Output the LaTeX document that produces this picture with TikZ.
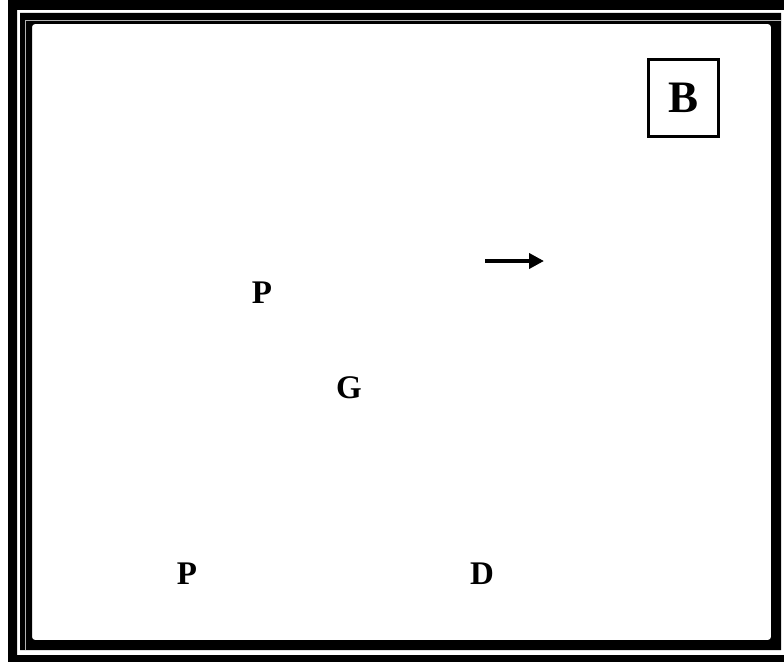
\documentclass[tikz,border=0pt]{standalone}
\usepackage{fontspec}
\setmainfont{Liberation Serif}
\usetikzlibrary{arrows.meta}
\tikzset{
  lbl/.style={font=\fontsize{33}{38}\selectfont\bfseries, inner sep=0pt},
  boxlbl/.style={draw, line width=3pt, minimum width=70pt, minimum height=77pt, font=\fontsize{45}{50}\selectfont\bfseries, inner sep=0pt},
  flow/.style={line width=4.5pt, -{Triangle[length=15pt,width=15pt]}}
}
\begin{document}
\begin{tikzpicture}[x=1pt,y=-1pt]
\useasboundingbox (0,0) rectangle (784,661);
\clip (0,0) rectangle (784,661);
\fill[white] (0,0) rectangle (784,661);
% outer frame
\fill[black, even odd rule] (8,-10) rectangle (800,675) (17,10) rectangle (790,655);
% inner frame
\fill[black, even odd rule] (20,13) rectangle (781,650) [rounded corners=3pt] (32,24) rectangle (771,640);
\draw[gray!60, line width=0.6pt] (25,650) -- (25,20) -- (781,20);
% labels
\node[boxlbl] (B) at (683.5,98) {B};
\node[lbl] (P1) at (262,293) {P};
\node[lbl] (G) at (349,388) {G};
\node[lbl] (P2) at (187,574) {P};
\node[lbl] (D) at (482,574) {D};
% arrow
\coordinate (a1) at (485,261);
\coordinate (a2) at (544,261);
\draw[flow] (a1) -- (a2);
\end{tikzpicture}
\end{document}
